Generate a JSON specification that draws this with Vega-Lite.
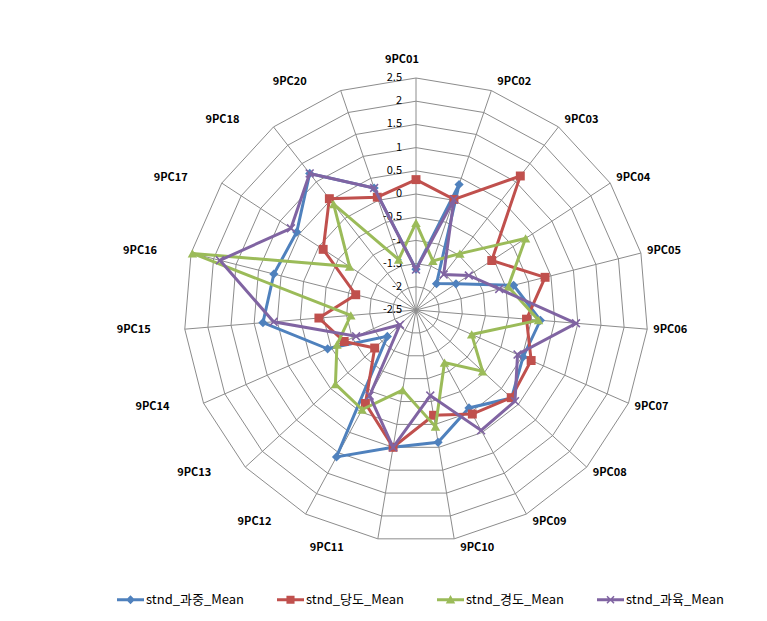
{
  "$schema": "https://vega.github.io/schema/vega-lite/v6.json",
  "width": 767,
  "height": 621,
  "autosize": "none",
  "padding": 0,
  "background": "white",
  "config": {"view": {"stroke": null}, "font": "Noto Sans CJK KR"},
  "datasets": {
    "vals": [
      {"cat": "9PC01", "idx": 0, "series": "stnd_과중_Mean", "value": -1.62},
      {"cat": "9PC02", "idx": 1, "series": "stnd_과중_Mean", "value": 0.36},
      {"cat": "9PC03", "idx": 2, "series": "stnd_과중_Mean", "value": -1.78},
      {"cat": "9PC04", "idx": 3, "series": "stnd_과중_Mean", "value": -1.47},
      {"cat": "9PC05", "idx": 4, "series": "stnd_과중_Mean", "value": -0.33},
      {"cat": "9PC06", "idx": 5, "series": "stnd_과중_Mean", "value": 0.19},
      {"cat": "9PC07", "idx": 6, "series": "stnd_과중_Mean", "value": 0.02},
      {"cat": "9PC08", "idx": 7, "series": "stnd_과중_Mean", "value": 0.3},
      {"cat": "9PC09", "idx": 8, "series": "stnd_과중_Mean", "value": -0.1},
      {"cat": "9PC10", "idx": 9, "series": "stnd_과중_Mean", "value": 0.39},
      {"cat": "9PC11", "idx": 10, "series": "stnd_과중_Mean", "value": 0.5},
      {"cat": "9PC12", "idx": 11, "series": "stnd_과중_Mean", "value": 1.1},
      {"cat": "9PC13", "idx": 12, "series": "stnd_과중_Mean", "value": -1.66},
      {"cat": "9PC14", "idx": 13, "series": "stnd_과중_Mean", "value": -0.42},
      {"cat": "9PC15", "idx": 14, "series": "stnd_과중_Mean", "value": 0.81},
      {"cat": "9PC16", "idx": 15, "series": "stnd_과중_Mean", "value": 0.66},
      {"cat": "9PC17", "idx": 16, "series": "stnd_과중_Mean", "value": 0.57},
      {"cat": "9PC18", "idx": 17, "series": "stnd_과중_Mean", "value": 1.23},
      {"cat": "9PC20", "idx": 18, "series": "stnd_과중_Mean", "value": 0.28},
      {"cat": "9PC01", "idx": 0, "series": "stnd_당도_Mean", "value": 0.31},
      {"cat": "9PC02", "idx": 1, "series": "stnd_당도_Mean", "value": 0.02},
      {"cat": "9PC03", "idx": 2, "series": "stnd_당도_Mean", "value": 1.16},
      {"cat": "9PC04", "idx": 3, "series": "stnd_당도_Mean", "value": -0.55},
      {"cat": "9PC05", "idx": 4, "series": "stnd_당도_Mean", "value": 0.37},
      {"cat": "9PC06", "idx": 5, "series": "stnd_당도_Mean", "value": -0.11},
      {"cat": "9PC07", "idx": 6, "series": "stnd_당도_Mean", "value": 0.21},
      {"cat": "9PC08", "idx": 7, "series": "stnd_당도_Mean", "value": 0.29},
      {"cat": "9PC09", "idx": 8, "series": "stnd_당도_Mean", "value": 0.05},
      {"cat": "9PC10", "idx": 9, "series": "stnd_당도_Mean", "value": -0.2},
      {"cat": "9PC11", "idx": 10, "series": "stnd_당도_Mean", "value": 0.5},
      {"cat": "9PC12", "idx": 11, "series": "stnd_당도_Mean", "value": -0.21},
      {"cat": "9PC13", "idx": 12, "series": "stnd_당도_Mean", "value": -1.29},
      {"cat": "9PC14", "idx": 13, "series": "stnd_당도_Mean", "value": -0.81},
      {"cat": "9PC15", "idx": 14, "series": "stnd_당도_Mean", "value": -0.4},
      {"cat": "9PC16", "idx": 15, "series": "stnd_당도_Mean", "value": -1.16},
      {"cat": "9PC17", "idx": 16, "series": "stnd_당도_Mean", "value": -0.11},
      {"cat": "9PC18", "idx": 17, "series": "stnd_당도_Mean", "value": 0.54},
      {"cat": "9PC20", "idx": 18, "series": "stnd_당도_Mean", "value": 0.07},
      {"cat": "9PC01", "idx": 0, "series": "stnd_경도_Mean", "value": -0.62},
      {"cat": "9PC02", "idx": 1, "series": "stnd_경도_Mean", "value": -1.38},
      {"cat": "9PC03", "idx": 2, "series": "stnd_경도_Mean", "value": -0.96},
      {"cat": "9PC04", "idx": 3, "series": "stnd_경도_Mean", "value": 0.32},
      {"cat": "9PC05", "idx": 4, "series": "stnd_경도_Mean", "value": -0.45},
      {"cat": "9PC06", "idx": 5, "series": "stnd_경도_Mean", "value": 0.15},
      {"cat": "9PC07", "idx": 6, "series": "stnd_경도_Mean", "value": -1.19},
      {"cat": "9PC08", "idx": 7, "series": "stnd_경도_Mean", "value": -0.55},
      {"cat": "9PC09", "idx": 8, "series": "stnd_경도_Mean", "value": -1.21},
      {"cat": "9PC10", "idx": 9, "series": "stnd_경도_Mean", "value": 0.05},
      {"cat": "9PC11", "idx": 10, "series": "stnd_경도_Mean", "value": -0.75},
      {"cat": "9PC12", "idx": 11, "series": "stnd_경도_Mean", "value": -0.06},
      {"cat": "9PC13", "idx": 12, "series": "stnd_경도_Mean", "value": -0.14},
      {"cat": "9PC14", "idx": 13, "series": "stnd_경도_Mean", "value": -0.64},
      {"cat": "9PC15", "idx": 14, "series": "stnd_경도_Mean", "value": -1.09},
      {"cat": "9PC16", "idx": 15, "series": "stnd_경도_Mean", "value": 2.47},
      {"cat": "9PC17", "idx": 16, "series": "stnd_경도_Mean", "value": -0.79},
      {"cat": "9PC18", "idx": 17, "series": "stnd_경도_Mean", "value": 0.39},
      {"cat": "9PC20", "idx": 18, "series": "stnd_경도_Mean", "value": -1.35},
      {"cat": "9PC01", "idx": 0, "series": "stnd_과육_Mean", "value": -1.63},
      {"cat": "9PC02", "idx": 1, "series": "stnd_과육_Mean", "value": 0.02},
      {"cat": "9PC03", "idx": 2, "series": "stnd_과육_Mean", "value": -1.53},
      {"cat": "9PC04", "idx": 3, "series": "stnd_과육_Mean", "value": -1.14},
      {"cat": "9PC05", "idx": 4, "series": "stnd_과육_Mean", "value": -0.65},
      {"cat": "9PC06", "idx": 5, "series": "stnd_과육_Mean", "value": 0.96},
      {"cat": "9PC07", "idx": 6, "series": "stnd_과육_Mean", "value": -0.11},
      {"cat": "9PC08", "idx": 7, "series": "stnd_과육_Mean", "value": 0.4},
      {"cat": "9PC09", "idx": 8, "series": "stnd_과육_Mean", "value": 0.45},
      {"cat": "9PC10", "idx": 9, "series": "stnd_과육_Mean", "value": -0.63},
      {"cat": "9PC11", "idx": 10, "series": "stnd_과육_Mean", "value": 0.5},
      {"cat": "9PC12", "idx": 11, "series": "stnd_과육_Mean", "value": -0.4},
      {"cat": "9PC13", "idx": 12, "series": "stnd_과육_Mean", "value": -2.03},
      {"cat": "9PC14", "idx": 13, "series": "stnd_과육_Mean", "value": -1.09},
      {"cat": "9PC15", "idx": 14, "series": "stnd_과육_Mean", "value": 0.58},
      {"cat": "9PC16", "idx": 15, "series": "stnd_과육_Mean", "value": 1.86},
      {"cat": "9PC17", "idx": 16, "series": "stnd_과육_Mean", "value": 0.72},
      {"cat": "9PC18", "idx": 17, "series": "stnd_과육_Mean", "value": 1.23},
      {"cat": "9PC20", "idx": 18, "series": "stnd_과육_Mean", "value": 0.28}
    ],
    "cats": [
      {"cat": "9PC01", "idx": 0}, {"cat": "9PC02", "idx": 1}, {"cat": "9PC03", "idx": 2},
      {"cat": "9PC04", "idx": 3}, {"cat": "9PC05", "idx": 4}, {"cat": "9PC06", "idx": 5},
      {"cat": "9PC07", "idx": 6}, {"cat": "9PC08", "idx": 7}, {"cat": "9PC09", "idx": 8},
      {"cat": "9PC10", "idx": 9}, {"cat": "9PC11", "idx": 10}, {"cat": "9PC12", "idx": 11},
      {"cat": "9PC13", "idx": 12}, {"cat": "9PC14", "idx": 13}, {"cat": "9PC15", "idx": 14},
      {"cat": "9PC16", "idx": 15}, {"cat": "9PC17", "idx": 16}, {"cat": "9PC18", "idx": 17},
      {"cat": "9PC20", "idx": 18}
    ],
    "levels": [
      {"level": -2.5, "idxs": [0,1,2,3,4,5,6,7,8,9,10,11,12,13,14,15,16,17,18]},
      {"level": -2, "idxs": [0,1,2,3,4,5,6,7,8,9,10,11,12,13,14,15,16,17,18]},
      {"level": -1.5, "idxs": [0,1,2,3,4,5,6,7,8,9,10,11,12,13,14,15,16,17,18]},
      {"level": -1, "idxs": [0,1,2,3,4,5,6,7,8,9,10,11,12,13,14,15,16,17,18]},
      {"level": -0.5, "idxs": [0,1,2,3,4,5,6,7,8,9,10,11,12,13,14,15,16,17,18]},
      {"level": 0, "idxs": [0,1,2,3,4,5,6,7,8,9,10,11,12,13,14,15,16,17,18]},
      {"level": 0.5, "idxs": [0,1,2,3,4,5,6,7,8,9,10,11,12,13,14,15,16,17,18]},
      {"level": 1, "idxs": [0,1,2,3,4,5,6,7,8,9,10,11,12,13,14,15,16,17,18]},
      {"level": 1.5, "idxs": [0,1,2,3,4,5,6,7,8,9,10,11,12,13,14,15,16,17,18]},
      {"level": 2, "idxs": [0,1,2,3,4,5,6,7,8,9,10,11,12,13,14,15,16,17,18]},
      {"level": 2.5, "idxs": [0,1,2,3,4,5,6,7,8,9,10,11,12,13,14,15,16,17,18]}
    ]
  },
  "encoding": {
    "x": {"field": "px", "type": "quantitative", "scale": {"domain": [-416, 351], "nice": false, "zero": false}, "axis": null},
    "y": {"field": "py", "type": "quantitative", "scale": {"domain": [-311, 310], "nice": false, "zero": false}, "axis": null}
  },
  "layer": [
    {
      "data": {"name": "levels"},
      "transform": [
        {"filter": "datum.level > -2.5"},
        {"flatten": ["idxs"], "as": ["i"]},
        {"calculate": "datum.i * 2 * PI / 19", "as": "t"},
        {"calculate": "(datum.level + 2.5) * 46.4", "as": "r"},
        {"calculate": "datum.r * sin(datum.t)", "as": "px"},
        {"calculate": "datum.r * cos(datum.t)", "as": "py"}
      ],
      "mark": {"type": "line", "interpolate": "linear-closed", "stroke": "#8c8c8c", "strokeWidth": 1},
      "encoding": {
        "detail": {"field": "level", "type": "nominal"},
        "order": {"field": "i", "type": "quantitative"}
      }
    },
    {
      "data": {"name": "cats"},
      "transform": [
        {"calculate": "datum.idx * 2 * PI / 19", "as": "t"},
        {"calculate": "0", "as": "px"},
        {"calculate": "0", "as": "py"},
        {"calculate": "232 * sin(datum.t)", "as": "ox"},
        {"calculate": "232 * cos(datum.t)", "as": "oy"}
      ],
      "mark": {"type": "rule", "stroke": "#8c8c8c", "strokeWidth": 1},
      "encoding": {
        "x2": {"field": "ox"},
        "y2": {"field": "oy"}
      }
    },
    {
      "data": {"name": "levels"},
      "transform": [
        {"calculate": "-14", "as": "px"},
        {"calculate": "(datum.level + 2.5) * 46.4", "as": "py"}
      ],
      "mark": {"type": "text", "align": "right", "baseline": "middle", "fontSize": 11, "color": "#000000"},
      "encoding": {"text": {"field": "level", "type": "nominal"}}
    },
    {
      "data": {"name": "cats"},
      "transform": [
        {"calculate": "datum.idx * 2 * PI / 19", "as": "t"},
        {"calculate": "sin(datum.t)", "as": "s"},
        {"calculate": "cos(datum.t)", "as": "c"},
        {"calculate": "232 * datum.s + (abs(datum.s) < 0.05 ? -14 : (datum.s > 0 ? 23 : -51))", "as": "px"},
        {"calculate": "232 * datum.c + (abs(datum.s) < 0.05 ? 18 : 9 * datum.c)", "as": "py"}
      ],
      "mark": {"type": "text", "align": "center", "baseline": "middle", "fontSize": 11, "fontWeight": "bold", "color": "#000000"},
      "encoding": {"text": {"field": "cat", "type": "nominal"}}
    },
    {
      "data": {"name": "vals"},
      "transform": [
        {"calculate": "datum.idx * 2 * PI / 19", "as": "t"},
        {"calculate": "(datum.value + 2.5) * 46.4", "as": "r"},
        {"calculate": "datum.r * sin(datum.t)", "as": "px"},
        {"calculate": "datum.r * cos(datum.t)", "as": "py"}
      ],
      "layer": [
        {
          "transform": [{"filter": "datum.series === 'stnd_과중_Mean'"}],
          "mark": {"type": "line", "interpolate": "linear-closed", "stroke": "#4F81BD", "strokeWidth": 3},
          "encoding": {"order": {"field": "idx", "type": "quantitative"}}
        },
        {
          "transform": [{"filter": "datum.series === 'stnd_과중_Mean'"}],
          "mark": {"type": "point", "shape": "diamond", "filled": true, "color": "#4F81BD", "opacity": 1, "size": 85}
        },
        {
          "transform": [{"filter": "datum.series === 'stnd_당도_Mean'"}],
          "mark": {"type": "line", "interpolate": "linear-closed", "stroke": "#C0504D", "strokeWidth": 3},
          "encoding": {"order": {"field": "idx", "type": "quantitative"}}
        },
        {
          "transform": [{"filter": "datum.series === 'stnd_당도_Mean'"}],
          "mark": {"type": "point", "shape": "square", "filled": true, "color": "#C0504D", "opacity": 1, "size": 80}
        },
        {
          "transform": [{"filter": "datum.series === 'stnd_경도_Mean'"}],
          "mark": {"type": "line", "interpolate": "linear-closed", "stroke": "#9BBB59", "strokeWidth": 3},
          "encoding": {"order": {"field": "idx", "type": "quantitative"}}
        },
        {
          "transform": [{"filter": "datum.series === 'stnd_경도_Mean'"}],
          "mark": {"type": "point", "shape": "triangle-up", "filled": true, "color": "#9BBB59", "opacity": 1, "size": 90}
        },
        {
          "transform": [{"filter": "datum.series === 'stnd_과육_Mean'"}],
          "mark": {"type": "line", "interpolate": "linear-closed", "stroke": "#8064A2", "strokeWidth": 3},
          "encoding": {"order": {"field": "idx", "type": "quantitative"}}
        },
        {
          "transform": [{"filter": "datum.series === 'stnd_과육_Mean'"}],
          "mark": {"type": "point", "shape": "M-1,-0.75L-0.75,-1L0,-0.25L0.75,-1L1,-0.75L0.25,0L1,0.75L0.75,1L0,0.25L-0.75,1L-1,0.75L-0.25,0Z", "filled": true, "color": "#8064A2", "opacity": 1, "size": 80}
        },
        {
          "transform": [{"filter": "datum.idx === 0"}],
          "mark": {"type": "point", "filled": true, "opacity": 0},
          "encoding": {
            "color": {
              "field": "series", "type": "nominal",
              "scale": {"domain": ["stnd_과중_Mean", "stnd_당도_Mean", "stnd_경도_Mean", "stnd_과육_Mean"], "range": ["#4F81BD", "#C0504D", "#9BBB59", "#8064A2"]},
              "legend": {"title": null, "orient": "none", "legendX": 117, "legendY": 586, "direction": "horizontal", "columns": 4, "symbolSize": 729, "labelOffset": 2, "columnPadding": 33, "labelFontSize": 13, "labelColor": "#000000", "symbolOpacity": 1, "symbolStrokeWidth": 0, "gridAlign": "all", "padding": 0}
            },
            "shape": {
              "field": "series", "type": "nominal",
              "scale": {"domain": ["stnd_과중_Mean", "stnd_당도_Mean", "stnd_경도_Mean", "stnd_과육_Mean"], "range": [
                "M-1,-0.11H1V0.11H-1Z M0,-0.33L0.33,0L0,0.33L-0.33,0Z",
                "M-1,-0.11H1V0.11H-1Z M-0.3,-0.3H0.3V0.3H-0.3Z",
                "M-1,-0.11H1V0.11H-1Z M0,-0.35L0.35,0.28H-0.35Z",
                "M-1,-0.11H1V0.11H-1Z M-0.3,-0.22L-0.22,-0.3L0,-0.08L0.22,-0.3L0.3,-0.22L0.08,0L0.3,0.22L0.22,0.3L0,0.08L-0.22,0.3L-0.3,0.22L-0.08,0Z"
              ]},
              "legend": {"title": null, "orient": "none", "legendX": 117, "legendY": 586, "direction": "horizontal", "columns": 4, "symbolSize": 729, "labelOffset": 2, "columnPadding": 33, "labelFontSize": 13, "labelColor": "#000000", "symbolOpacity": 1, "symbolStrokeWidth": 0, "gridAlign": "all", "padding": 0}
            }
          }
        }
      ]
    }
  ]
}
